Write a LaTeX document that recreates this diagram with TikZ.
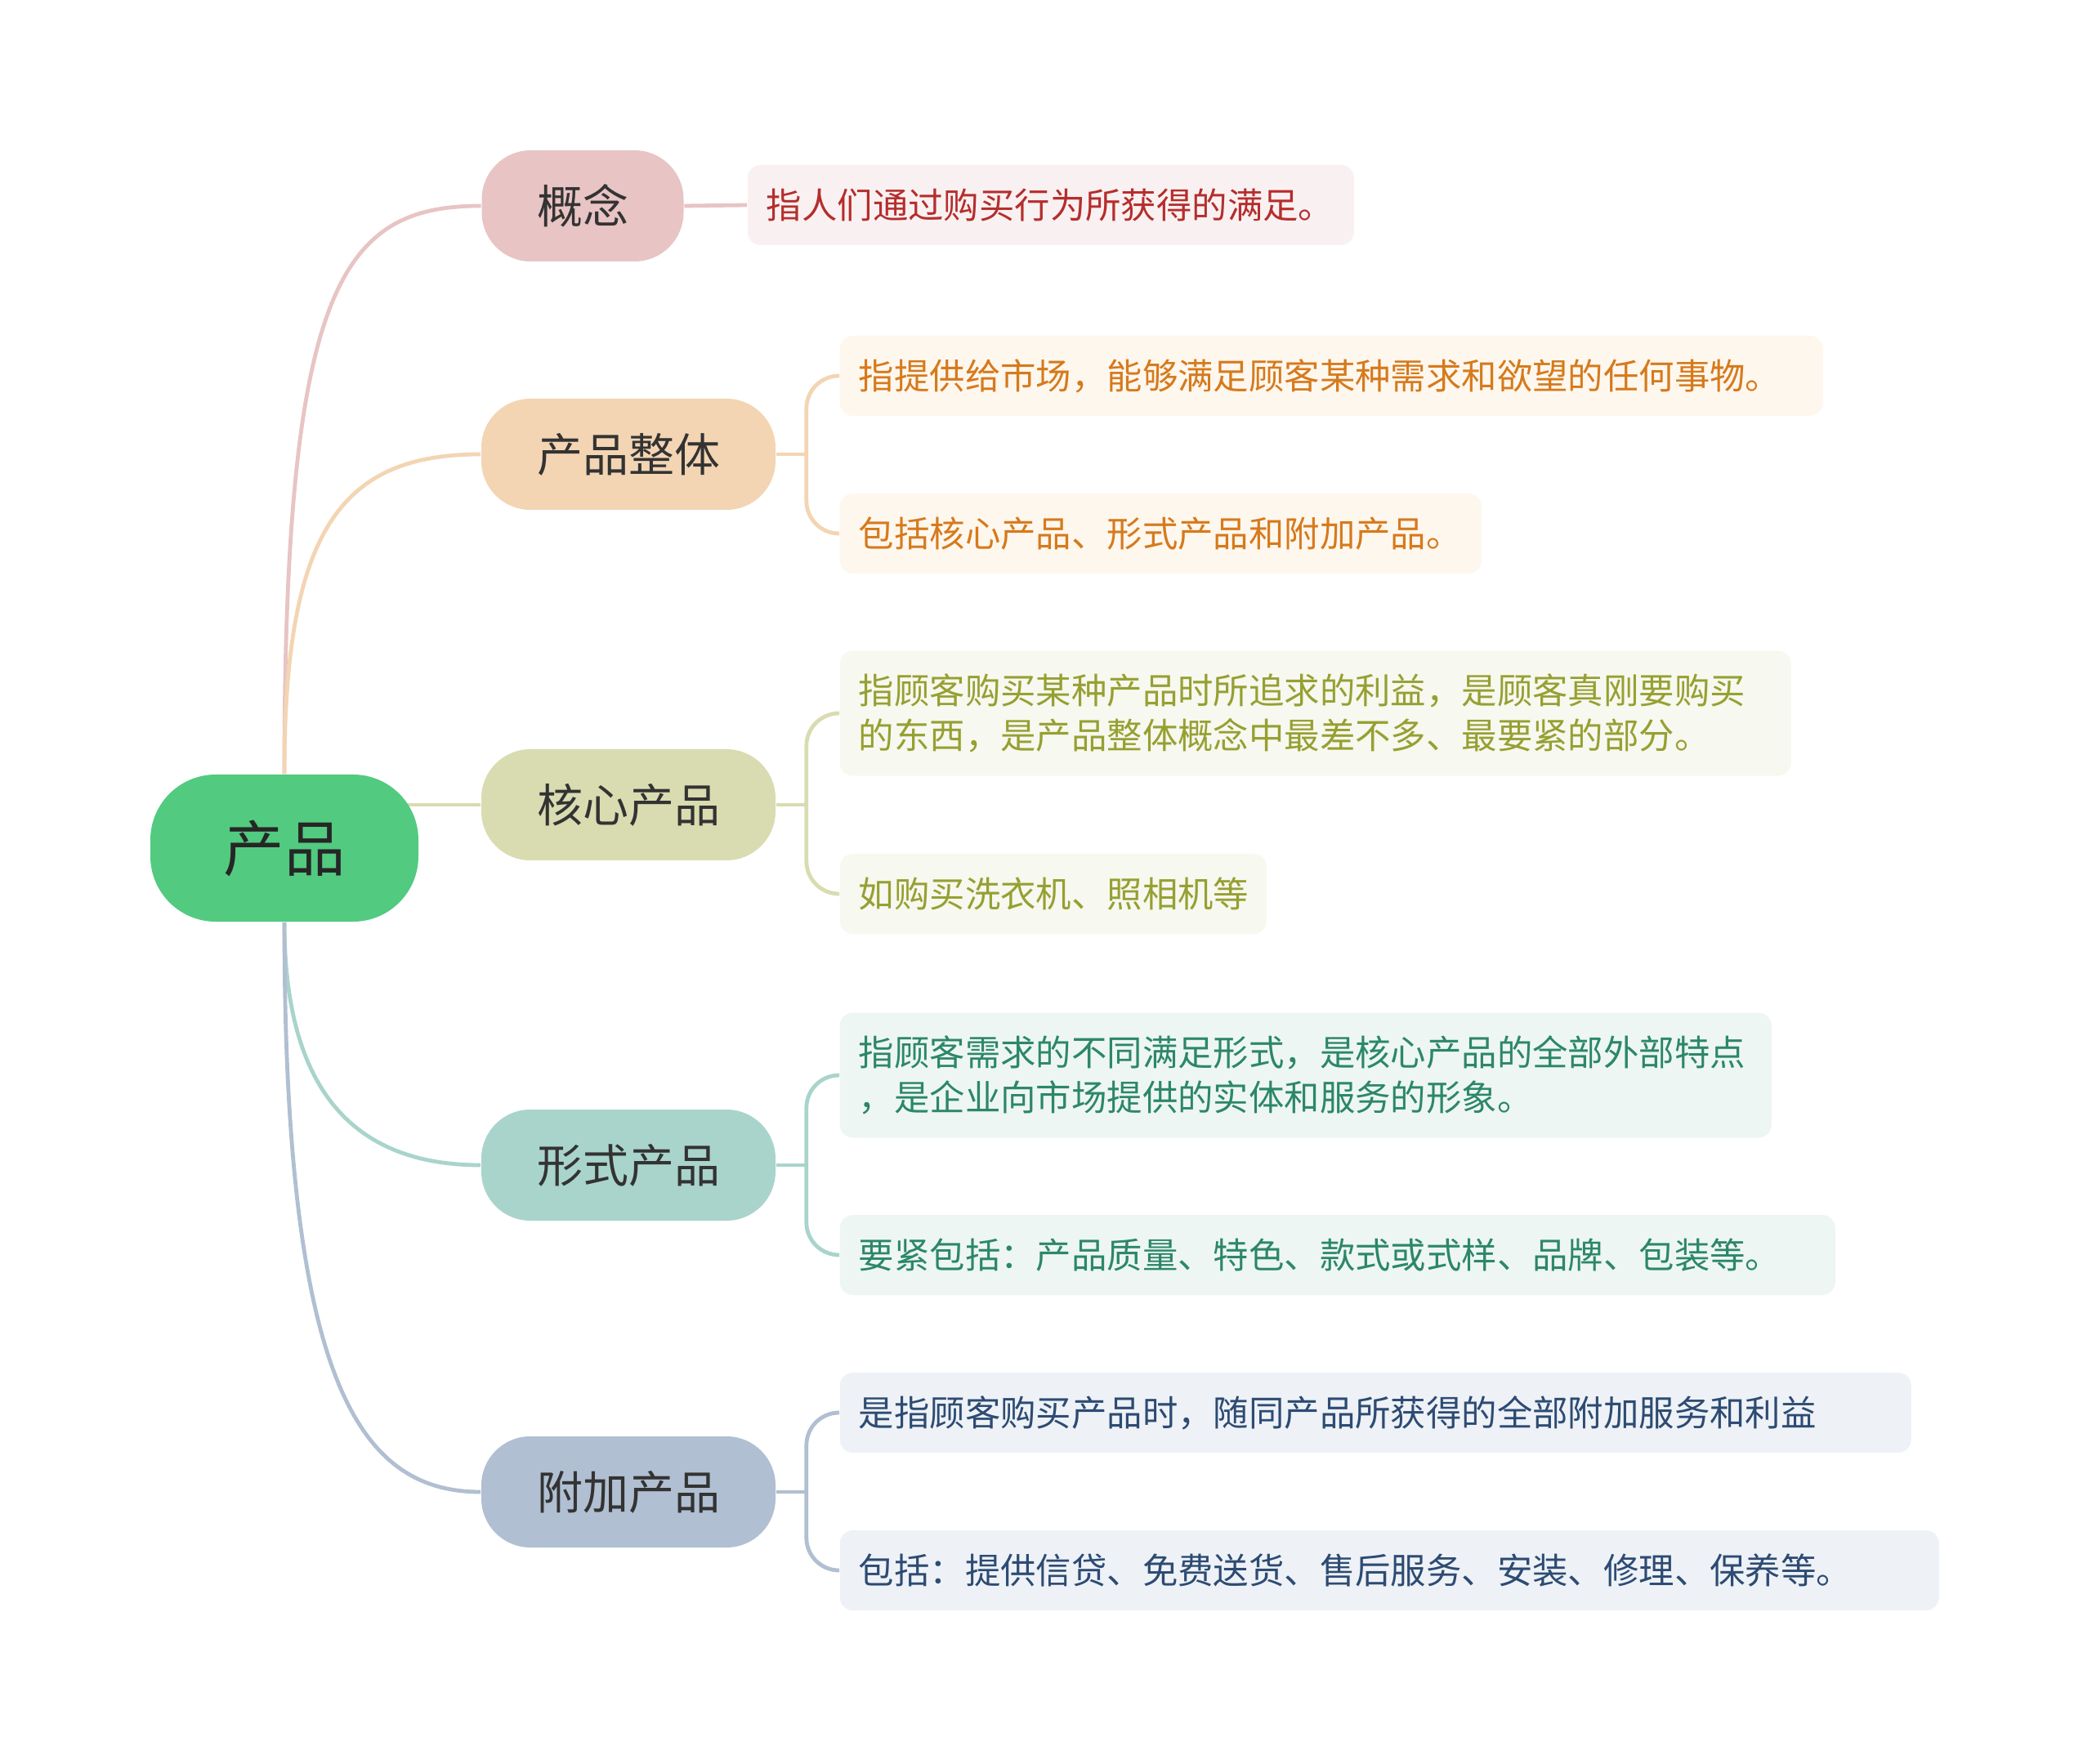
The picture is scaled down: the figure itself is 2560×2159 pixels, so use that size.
\documentclass[tikz,border=0pt]{standalone}
\usepackage{fontspec}
\setmainfont{Noto Sans CJK SC}
\usetikzlibrary{calc,backgrounds}
\definecolor{rootfill}{RGB}{82,202,128}
\definecolor{gnfill}{RGB}{232,196,196}
\definecolor{gnleaf}{RGB}{249,241,241}
\definecolor{gntext}{RGB}{182,45,45}
\definecolor{ztfill}{RGB}{243,213,179}
\definecolor{ztleaf}{RGB}{254,247,238}
\definecolor{zttext}{RGB}{214,122,28}
\definecolor{hxfill}{RGB}{217,220,176}
\definecolor{hxleaf}{RGB}{247,248,239}
\definecolor{hxtext}{RGB}{150,160,50}
\definecolor{xsfill}{RGB}{169,212,203}
\definecolor{xsleaf}{RGB}{238,246,244}
\definecolor{xstext}{RGB}{44,135,105}
\definecolor{fjfill}{RGB}{176,191,209}
\definecolor{fjleaf}{RGB}{238,242,246}
\definecolor{fjtext}{RGB}{45,75,115}

\begin{document}
\begin{tikzpicture}[
  x=0.25pt, y=-0.25pt,
  rootnode/.style={fill=rootfill, rounded corners=20pt, minimum width=82pt, minimum height=45pt, font=\fontsize{18.6}{22}\selectfont, text=black!85},
  topic/.style={rounded corners=15pt, minimum width=90pt, minimum height=34pt, font=\fontsize{14}{17}\selectfont, text=black!80},
  leaf/.style={anchor=west, rounded corners=4pt, inner xsep=5.75pt, minimum height=24.5pt, align=left, font=\fontsize{10.85}{13.9}\selectfont},
  tall/.style={minimum height=38.25pt},
  link/.style={line width=1.2pt}
]
\useasboundingbox (0,0) rectangle (2560,2159);

\node[rootnode] (root) at (348,1038) {产品};

\node[topic, fill=gnfill, minimum width=61.75pt] (gn-h) at (713,252) {概念};
\node[leaf, fill=gnleaf, text=gntext, text width=174pt] (gn-1) at (914,251) {指人们通过购买行为所获得的满足。};

\node[topic, fill=ztfill] (zt-h) at (769,556) {产品整体};
\node[leaf, fill=ztleaf, text=zttext, text width=289.25pt] (zt-1) at (1027,460) {指提供给市场，能够满足顾客某种需求和欲望的任何事物。};
\node[leaf, fill=ztleaf, text=zttext, text width=184.75pt] (zt-2) at (1027,653) {包括核心产品、形式产品和附加产品。};

\node[topic, fill=hxfill] (hx-h) at (769,985) {核心产品};
\node[leaf, tall, fill=hxleaf, text=hxtext, text width=279.5pt] (hx-1) at (1027,873) {指顾客购买某种产品时所追求的利益，是顾客真刚要购买\\的东西，是产品整体概念中最差不多、最要紧的部分。};
\node[leaf, fill=hxleaf, text=hxtext, text width=119pt] (hx-2) at (1027,1094) {如购买洗衣机、照相机等};

\node[topic, fill=xsfill] (xs-h) at (769,1426) {形式产品};
\node[leaf, tall, fill=xsleaf, text=xstext, text width=273.5pt] (xs-1) at (1027,1316) {指顾客需求的不同满足形式，是核心产品的全部外部特点\\，是企业向市场提供的实体和服务的形象。};
\node[leaf, fill=xsleaf, text=xstext, text width=293pt] (xs-2) at (1027,1536) {要紧包括：产品质量、特色、款式或式样、品牌、包装等。};

\node[topic, fill=fjfill] (fj-h) at (769,1826) {附加产品};
\node[leaf, fill=fjleaf, text=fjtext, text width=316.25pt] (fj-1) at (1027,1729) {是指顾客购买产品时，随同产品所获得的全部附加服务和利益};
\node[leaf, fill=fjleaf, text=fjtext, text width=324.75pt] (fj-2) at (1027,1922) {包括：提供信贷、免费送货、售后服务、安装、修理、保养等。};

\coordinate (zt-j) at ($(zt-h.east)+(37,0)$);
\coordinate (hx-j) at ($(hx-h.east)+(37,0)$);
\coordinate (xs-j) at ($(xs-h.east)+(37,0)$);
\coordinate (fj-j) at ($(fj-h.east)+(37,0)$);

\begin{scope}[on background layer]
\fill[white] (0,0) rectangle (2560,2159);
\draw[link, gnfill] (root.north) .. controls +(0,-600) and +(-170,0) .. (gn-h.west);
\draw[link, ztfill] (root.north) .. controls +(0,-300) and +(-170,0) .. (zt-h.west);
\draw[link, hxfill] (root.center |- hx-h.west) -- (hx-h.west);
\draw[link, xsfill] (root.south) .. controls +(0,200) and +(-160,0) .. (xs-h.west);
\draw[link, fjfill] (root.south) .. controls +(0,560) and +(-150,0) .. (fj-h.west);

\draw[link, gnfill] (gn-h.east) -- (gn-1.west);

\draw[link, ztfill] (zt-h.east) -- (zt-j);
\draw[link, ztfill, rounded corners=10pt] (zt-j) |- (zt-1.west);
\draw[link, ztfill, rounded corners=10pt] (zt-j) |- (zt-2.west);

\draw[link, hxfill] (hx-h.east) -- (hx-j);
\draw[link, hxfill, rounded corners=10pt] (hx-j) |- (hx-1.west);
\draw[link, hxfill, rounded corners=10pt] (hx-j) |- (hx-2.west);

\draw[link, xsfill] (xs-h.east) -- (xs-j);
\draw[link, xsfill, rounded corners=10pt] (xs-j) |- (xs-1.west);
\draw[link, xsfill, rounded corners=10pt] (xs-j) |- (xs-2.west);

\draw[link, fjfill] (fj-h.east) -- (fj-j);
\draw[link, fjfill, rounded corners=10pt] (fj-j) |- (fj-1.west);
\draw[link, fjfill, rounded corners=10pt] (fj-j) |- (fj-2.west);
\end{scope}
\end{tikzpicture}
\end{document}
